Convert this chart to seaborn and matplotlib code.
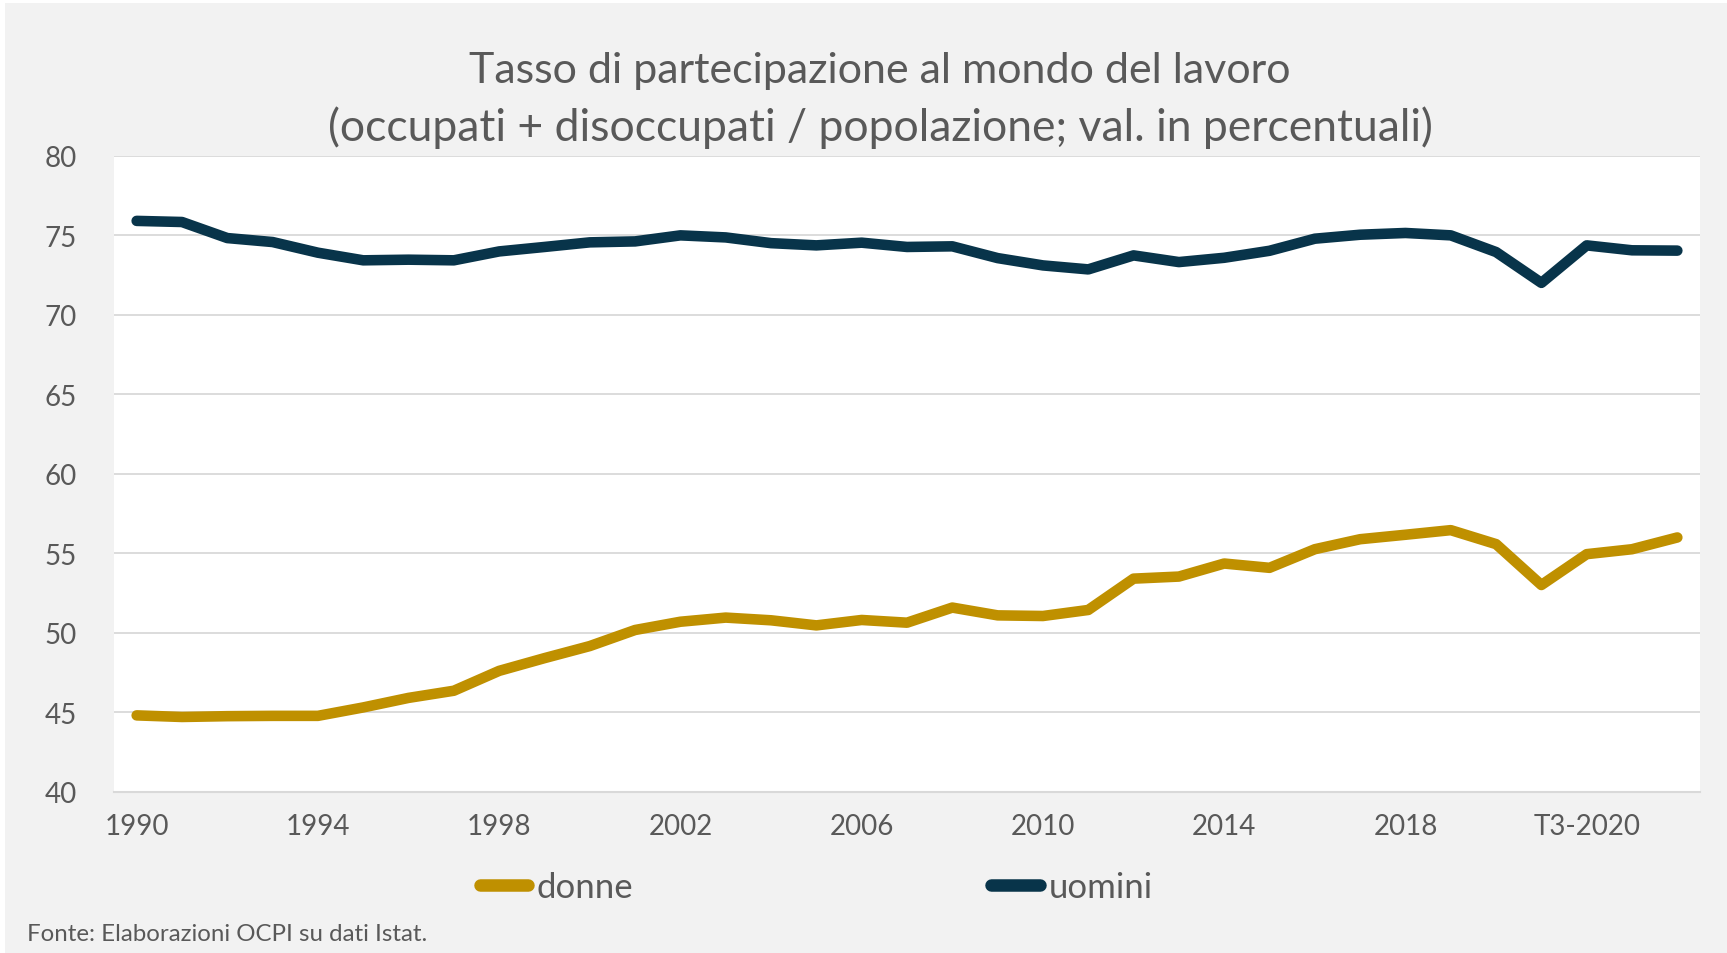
import numpy as np
import pandas as pd
import matplotlib
matplotlib.use('Agg')
import matplotlib.pyplot as plt
from matplotlib.patches import Rectangle
import seaborn as sns

# periodi: anni 1990-2019, poi trimestri 2020-2021
periodi = [str(a) for a in range(1990, 2020)] + ['T1-2020', 'T2-2020', 'T3-2020', 'T4-2020', 'T1-2021']

donne = [44.8, 44.7, 44.75, 44.77, 44.77, 45.3, 45.9, 46.35, 47.6, 48.4,
         49.16, 50.17, 50.69, 50.95, 50.78, 50.46, 50.8, 50.63, 51.58, 51.09,
         51.05, 51.43, 53.4, 53.53, 54.35, 54.08, 55.25, 55.88, 56.16, 56.45,
         55.57, 53.0, 54.94, 55.25, 55.99]

uomini = [75.9, 75.83, 74.82, 74.57, 73.9, 73.42, 73.46, 73.42, 73.98, 74.26,
          74.55, 74.61, 74.99, 74.86, 74.5, 74.36, 74.53, 74.26, 74.3, 73.56,
          73.1, 72.85, 73.73, 73.31, 73.58, 74.02, 74.78, 75.03, 75.14, 74.99,
          73.94, 72.0, 74.36, 74.05, 74.03]

etichette_x = periodi[::4]
tick_y = [40, 45, 50, 55, 60, 65, 70, 75, 80]

colori = {'donne': '#bf9000', 'uomini': '#08344a'}
grigio_testo = '#595959'

df = pd.DataFrame({'periodo': periodi * 2,
                   'valore': donne + uomini,
                   'sesso': ['donne'] * len(periodi) + ['uomini'] * len(periodi)})

sns.set_style('white')
plt.rcParams['font.family'] = ['Lato', 'DejaVu Sans']

W, H = 1727, 954
fig = plt.figure(figsize=(W / 100, H / 100), dpi=100)
fig.patch.set_facecolor('white')
# sfondo grigio dell'area grafico
fig.patches.append(Rectangle((5 / W, 0), 1, 1 - 4 / H, transform=fig.transFigure,
                             facecolor='#f2f2f2', edgecolor='none', zorder=-1))

ax = fig.add_axes([114 / W, 1 - 792.7 / H, (1700 - 114) / W, (792.7 - 156.7) / H])
ax.set_facecolor('white')

sns.lineplot(data=df, x='periodo', y='valore', hue='sesso', palette=colori,
             linewidth=7.6, solid_capstyle='round', sort=False, ax=ax, zorder=3)

ax.set_xlim(-0.5, len(periodi) - 0.5)
ax.set_ylim(40, 80)
ax.set_yticks(tick_y)
ax.set_yticklabels([str(v) for v in tick_y])
ax.set_xticks(range(0, len(periodi), 4))
ax.set_xticklabels(etichette_x)
ax.set_xticks(np.arange(-0.5, len(periodi), 1), minor=True)

ax.grid(axis='y', color='#d9d9d9', linewidth=1.3, zorder=0)
ax.set_axisbelow(True)
for s in ['top', 'right', 'left']:
    ax.spines[s].set_visible(False)
ax.spines['bottom'].set_color('#d9d9d9')
ax.spines['bottom'].set_linewidth(1.5)

ax.tick_params(axis='y', length=0, pad=27, labelsize=20, labelcolor=grigio_testo)
ax.tick_params(axis='x', which='major', length=0, pad=15, labelsize=20, labelcolor=grigio_testo)
ax.tick_params(axis='x', which='minor', direction='in', length=9, width=1.3, color='#d9d9d9')

ax.set_xlabel('')
ax.set_ylabel('')

# legenda
handles, labels = ax.get_legend_handles_labels()
if ax.legend_:
    ax.legend_.remove()
leg = fig.legend(handles, labels, loc='center', bbox_to_anchor=(816 / W, 1 - 888 / H),
                 ncol=2, frameon=False, fontsize=25, handlelength=1.4, handletextpad=0.25,
                 columnspacing=10.3, labelcolor=grigio_testo)
for ln in leg.get_lines():
    ln.set_linewidth(9)
    ln.set_solid_capstyle('round')

# titoli
fig.text(880 / W, 1 - 71 / H, 'Tasso di partecipazione al mondo del lavoro',
         ha='center', va='center', fontsize=31, color=grigio_testo)
fig.text(880 / W, 1 - 128 / H, '(occupati + disoccupati / popolazione; val. in percentuali)',
         ha='center', va='center', fontsize=32, color=grigio_testo)

fig.text(27 / W, 1 - 935 / H, 'Fonte: Elaborazioni OCPI su dati Istat.',
         ha='left', va='center', fontsize=17.3, color=grigio_testo)

fig.savefig('out.png', dpi=100, facecolor=fig.get_facecolor())
plt.close()
